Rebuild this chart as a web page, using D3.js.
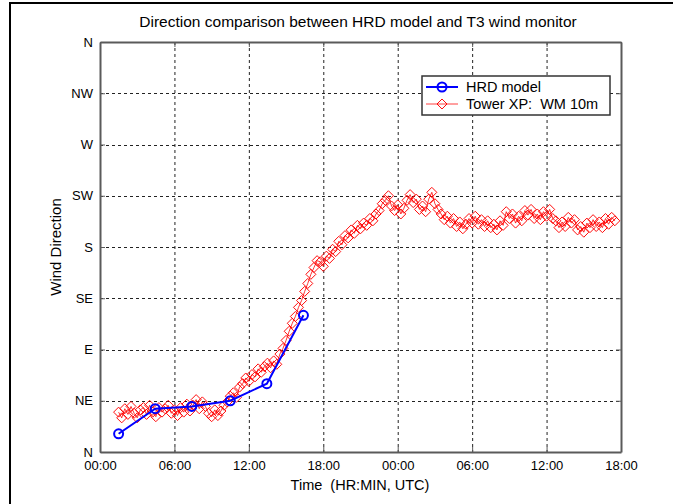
<!DOCTYPE html>
<html lang="en">
<head>
    <meta charset="UTF-8">
    <title>Direction comparison</title>
    <script src="https://d3js.org/d3.v7.min.js"></script>
    <style>
        body {
            margin: 0;
            padding: 0;
            background-color: #fff;
        }
        svg {
            display: block;
            font-family: "Liberation Sans", Arial, sans-serif;
        }
        text {
            white-space: pre;
        }
        .axis path, .axis line {
            stroke: #5a5a5a;
        }
        .axis text {
            fill: #000;
            font-size: 13px;
        }
    </style>
</head>
<body>
    <svg id="chart" width="673" height="504"></svg>

    <script>
        // x ticks in hours from the start, y ticks in degrees
        const xTicks = [0, 6, 12, 18, 24, 30, 36, 42];
        const xLabels = ["00:00", "06:00", "12:00", "18:00", "00:00", "06:00", "12:00", "18:00"];
        const yTicks = [0, 45, 90, 135, 180, 225, 270, 315, 360];
        const yLabels = ["N", "NE", "E", "SE", "S", "SW", "W", "NW", "N"];

        // HRD model, every 3 hours
        const hrdHours = [1.5, 4.45, 7.4, 10.5, 13.45, 16.4];
        const hrdDir = [16, 38, 40, 45, 60, 120];

        // Tower XP WM 10m, sampled every 15 minutes from 01:30
        const towerStart = 1.5;
        const towerStep = 0.25;
        const towerDir = [
            35, 30, 38, 33, 40, 34, 30, 37, 39, 33, 41, 35, 31, 39, 35,
            38, 41, 34, 37, 32, 39, 35, 42, 36, 41, 46, 38, 44,
            40, 34, 31, 37, 32, 36, 41,
            44, 49, 52, 48, 57, 60,
            65, 62, 68, 66, 73, 70, 75,
            78, 74, 80, 77, 86,
            91, 98, 106, 113, 119, 127,
            133, 141, 148, 156, 162, 168,
            167, 163, 172, 170, 178, 176,
            185, 182, 190, 188, 195, 192, 199, 196, 201, 199,
            205, 203, 209, 212, 218, 221,
            225, 216, 212, 217, 209, 214, 221, 226, 219, 222, 213,
            216, 211, 222, 228, 218, 213,
            209, 204, 207, 201, 205, 198, 202, 196, 200,
            205, 201, 207, 200, 204, 198, 203, 197,
            200, 195, 203, 199, 211, 205, 209, 201,
            207, 203, 212, 208, 213, 205, 209, 204,
            211, 207, 213, 205, 203, 197, 202, 198,
            206, 201, 204, 195, 198, 193, 201, 197,
            204, 198, 202, 197, 205, 200, 206, 203
        ];

        const svg = d3.select("#chart");
        const mLeft = 100, mRight = 621, mTop = 42, mBottom = 452;

        const x = d3.scaleLinear().domain([0, 42]).range([mLeft, mRight]);
        const y = d3.scaleLinear().domain([0, 360]).range([mBottom, mTop]);

        // outer frame (only left and top edges are visible)
        svg.append("line").attr("x1", 10).attr("y1", 2).attr("x2", 10).attr("y2", 504)
            .attr("stroke", "#000").attr("stroke-width", 2);
        svg.append("line").attr("x1", 9).attr("y1", 3).attr("x2", 673).attr("y2", 3)
            .attr("stroke", "#000").attr("stroke-width", 2);

        // grid
        const grid = svg.append("g").attr("stroke", "#222").attr("stroke-width", 1)
            .attr("stroke-dasharray", "3,3");
        grid.selectAll(".gx").data(xTicks.slice(1, -1)).enter().append("line")
            .attr("x1", d => x(d) + 0.5).attr("x2", d => x(d) + 0.5)
            .attr("y1", mTop).attr("y2", mBottom);
        grid.selectAll(".gy").data(yTicks.slice(1, -1)).enter().append("line")
            .attr("y1", d => Math.round(y(d)) + 0.5).attr("y2", d => Math.round(y(d)) + 0.5)
            .attr("x1", mLeft).attr("x2", mRight);

        // axes, ticks point inward like matlab
        svg.append("g").attr("class", "axis")
            .attr("transform", `translate(0,${mBottom})`)
            .call(d3.axisBottom(x).tickValues(xTicks).tickFormat((d, i) => xLabels[i])
                .tickSizeInner(-5).tickSizeOuter(0).tickPadding(9));
        svg.append("g").attr("class", "axis")
            .attr("transform", `translate(0,${mTop})`)
            .call(d3.axisTop(x).tickValues(xTicks).tickFormat("")
                .tickSizeInner(-5).tickSizeOuter(0));
        svg.append("g").attr("class", "axis")
            .attr("transform", `translate(${mLeft},0)`)
            .call(d3.axisLeft(y).tickValues(yTicks).tickFormat((d, i) => yLabels[i])
                .tickSizeInner(-5).tickSizeOuter(0).tickPadding(7));
        svg.append("g").attr("class", "axis")
            .attr("transform", `translate(${mRight},0)`)
            .call(d3.axisRight(y).tickValues(yTicks).tickFormat("")
                .tickSizeInner(-5).tickSizeOuter(0));
        svg.selectAll(".axis path.domain").attr("stroke-width", 2);

        // tower series
        const towerData = towerDir.map((d, i) => ({ t: towerStart + i * towerStep, v: d }));
        const line = d3.line().x(d => x(d.t)).y(d => y(d.v));
        const diamond = d3.symbol().type(d3.symbolSquare).size(50);

        svg.append("path").datum(towerData)
            .attr("d", line)
            .attr("fill", "none")
            .attr("stroke", "#ff0000")
            .attr("stroke-width", 0.8);
        svg.append("g").selectAll("path").data(towerData).enter().append("path")
            .attr("d", diamond)
            .attr("transform", d => `translate(${x(d.t)},${y(d.v)}) rotate(45)`)
            .attr("fill", "none")
            .attr("stroke", "#ff0000")
            .attr("stroke-width", 0.9);

        // hrd series
        const hrdData = hrdHours.map((t, i) => ({ t: t, v: hrdDir[i] }));
        svg.append("path").datum(hrdData)
            .attr("d", line)
            .attr("fill", "none")
            .attr("stroke", "#0000ff")
            .attr("stroke-width", 2);
        svg.append("g").selectAll("circle").data(hrdData).enter().append("circle")
            .attr("cx", d => x(d.t)).attr("cy", d => y(d.v)).attr("r", 4.5)
            .attr("fill", "none")
            .attr("stroke", "#0000ff")
            .attr("stroke-width", 2);

        // legend
        const lg = svg.append("g");
        lg.append("rect").attr("x", 422).attr("y", 76).attr("width", 188).attr("height", 39)
            .attr("fill", "#fff").attr("stroke", "#333").attr("stroke-width", 1.5);
        lg.append("line").attr("x1", 426).attr("x2", 458).attr("y1", 87).attr("y2", 87)
            .attr("stroke", "#0000ff").attr("stroke-width", 2);
        lg.append("circle").attr("cx", 442).attr("cy", 87).attr("r", 4.5)
            .attr("fill", "none").attr("stroke", "#0000ff").attr("stroke-width", 2);
        lg.append("line").attr("x1", 426).attr("x2", 458).attr("y1", 104).attr("y2", 104)
            .attr("stroke", "#ff4040").attr("stroke-width", 1);
        lg.append("path").attr("d", diamond)
            .attr("transform", "translate(442,104) rotate(45)")
            .attr("fill", "none").attr("stroke", "#ff0000").attr("stroke-width", 0.9);
        lg.append("text").attr("x", 466).attr("y", 92).attr("font-size", 14.5).text("HRD model");
        lg.append("text").attr("x", 466).attr("y", 109).attr("font-size", 14.5).text("Tower XP:  WM 10m");

        // titles
        svg.append("text").attr("x", 358).attr("y", 27).attr("text-anchor", "middle")
            .attr("font-size", 15.5).text("Direction comparison between HRD model and T3 wind monitor");
        svg.append("text").attr("x", 360).attr("y", 490).attr("text-anchor", "middle")
            .attr("font-size", 14.5).text("Time  (HR:MIN, UTC)");
        svg.append("text").attr("transform", "translate(61,247) rotate(-90)")
            .attr("text-anchor", "middle").attr("font-size", 15).text("Wind Direction");
    </script>
</body>
</html>
